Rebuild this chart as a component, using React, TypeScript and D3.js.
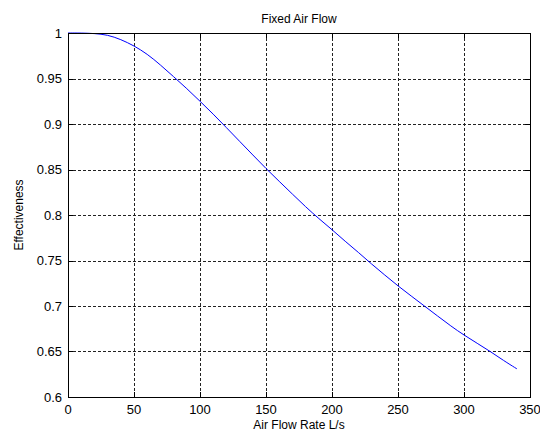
import * as d3 from "d3";
import { useEffect, useRef } from "react";

const flowRates = [
  0, 10, 20, 30, 40, 50, 60, 70, 80, 90, 100, 110, 120, 130, 140, 150, 160, 170, 180, 190,
  200, 210, 220, 230, 240, 250, 260, 270, 280, 290, 300, 310, 320, 330, 340,
];
const effectiveness = [
  1.0, 1.0, 0.9995, 0.998, 0.993, 0.986, 0.977, 0.965, 0.952, 0.939, 0.925, 0.911, 0.896,
  0.881, 0.866, 0.851, 0.837, 0.823, 0.809, 0.796, 0.784, 0.771, 0.759, 0.746, 0.734, 0.722,
  0.711, 0.7, 0.689, 0.678, 0.668, 0.659, 0.65, 0.64, 0.631,
];
const xTicks = [0, 50, 100, 150, 200, 250, 300, 350];
const yTicks = [0.6, 0.65, 0.7, 0.75, 0.8, 0.85, 0.9, 0.95, 1];

const FONT = "Arial, 'Liberation Sans', sans-serif";

function drawChart(svgElement: SVGSVGElement) {
  const width = 540;
  const height = 434;
  const margin = { top: 33, right: 10, bottom: 37, left: 68 };
  const svg = d3.select(svgElement);
  svg.selectAll("*").remove();
  svg.attr("width", width).attr("height", height).attr("viewBox", `0 0 ${width} ${height}`);

  svg.append("rect").attr("width", width).attr("height", height).attr("fill", "#fff");

  const x = d3.scaleLinear().domain([0, 350]).range([margin.left, width - margin.right]);
  const y = d3.scaleLinear().domain([0.6, 1]).range([height - margin.bottom, margin.top]);
  const [x0, x1] = x.range();
  const [y0, y1] = y.range();

  // grid
  const grid = svg.append("g").attr("stroke", "#222").attr("stroke-width", 1).attr("stroke-dasharray", "3,2");
  grid
    .selectAll("line.vx")
    .data(xTicks.slice(1, -1))
    .join("line")
    .attr("x1", (d) => Math.round(x(d)) + 0.5)
    .attr("x2", (d) => Math.round(x(d)) + 0.5)
    .attr("y1", y1)
    .attr("y2", y0);
  grid
    .selectAll("line.hy")
    .data(yTicks.slice(1, -1))
    .join("line")
    .attr("y1", (d) => Math.round(y(d)) + 0.5)
    .attr("y2", (d) => Math.round(y(d)) + 0.5)
    .attr("x1", x0)
    .attr("x2", x1);

  // curve
  const pts = flowRates.map((f, i) => [f, effectiveness[i]] as [number, number]);
  svg
    .append("path")
    .datum(pts)
    .attr("fill", "none")
    .attr("stroke", "#0000ff")
    .attr("stroke-width", 1)
    .attr("d", d3.line<[number, number]>().x((d) => x(d[0])).y((d) => y(d[1])).curve(d3.curveBasis));

  // box
  svg
    .append("rect")
    .attr("x", x0 + 0.5)
    .attr("y", y1 + 0.5)
    .attr("width", x1 - x0)
    .attr("height", y0 - y1)
    .attr("fill", "none")
    .attr("stroke", "#000");

  // ticks (inward)
  const tk = svg.append("g").attr("stroke", "#000");
  xTicks.forEach((t) => {
    const px = Math.round(x(t)) + 0.5;
    tk.append("line").attr("x1", px).attr("x2", px).attr("y1", y0).attr("y2", y0 - 5);
    tk.append("line").attr("x1", px).attr("x2", px).attr("y1", y1).attr("y2", y1 + 5);
  });
  yTicks.forEach((t) => {
    const py = Math.round(y(t)) + 0.5;
    tk.append("line").attr("y1", py).attr("y2", py).attr("x1", x0).attr("x2", x0 + 5);
    tk.append("line").attr("y1", py).attr("y2", py).attr("x1", x1).attr("x2", x1 - 5);
  });

  const text = svg.append("g").attr("font-family", FONT).attr("font-size", 13).attr("fill", "#000");
  text
    .selectAll("text.xt")
    .data(xTicks)
    .join("text")
    .attr("x", (d) => x(d))
    .attr("y", y0 + 17)
    .attr("text-anchor", "middle")
    .text((d) => d3.format("")(d));
  text
    .selectAll("text.yt")
    .data(yTicks)
    .join("text")
    .attr("x", x0 - 6)
    .attr("y", (d) => y(d) + 4.5)
    .attr("text-anchor", "end")
    .text((d) => String(+d.toFixed(2)));

  text
    .append("text")
    .attr("x", (x0 + x1) / 2)
    .attr("y", 23)
    .attr("text-anchor", "middle")
    .attr("font-size", 12)
    .text("Fixed Air Flow");
  text
    .append("text")
    .attr("x", (x0 + x1) / 2)
    .attr("y", 429)
    .attr("text-anchor", "middle")
    .attr("font-size", 12)
    .text("Air Flow Rate L/s");
  text
    .append("text")
    .attr("transform", `translate(23,${(y0 + y1) / 2}) rotate(-90)`)
    .attr("text-anchor", "middle")
    .attr("font-size", 12)
    .text("Effectiveness");
}

export default function App() {
  const svgRef = useRef<SVGSVGElement>(null);
  useEffect(() => {
    if (svgRef.current) drawChart(svgRef.current);
  }, []);
  return (
    <svg
      ref={svgRef}
      style={{ position: "absolute", left: 0, top: 0, display: "block" }}
      role="img"
      aria-label="Fixed Air Flow"
    />
  );
}
